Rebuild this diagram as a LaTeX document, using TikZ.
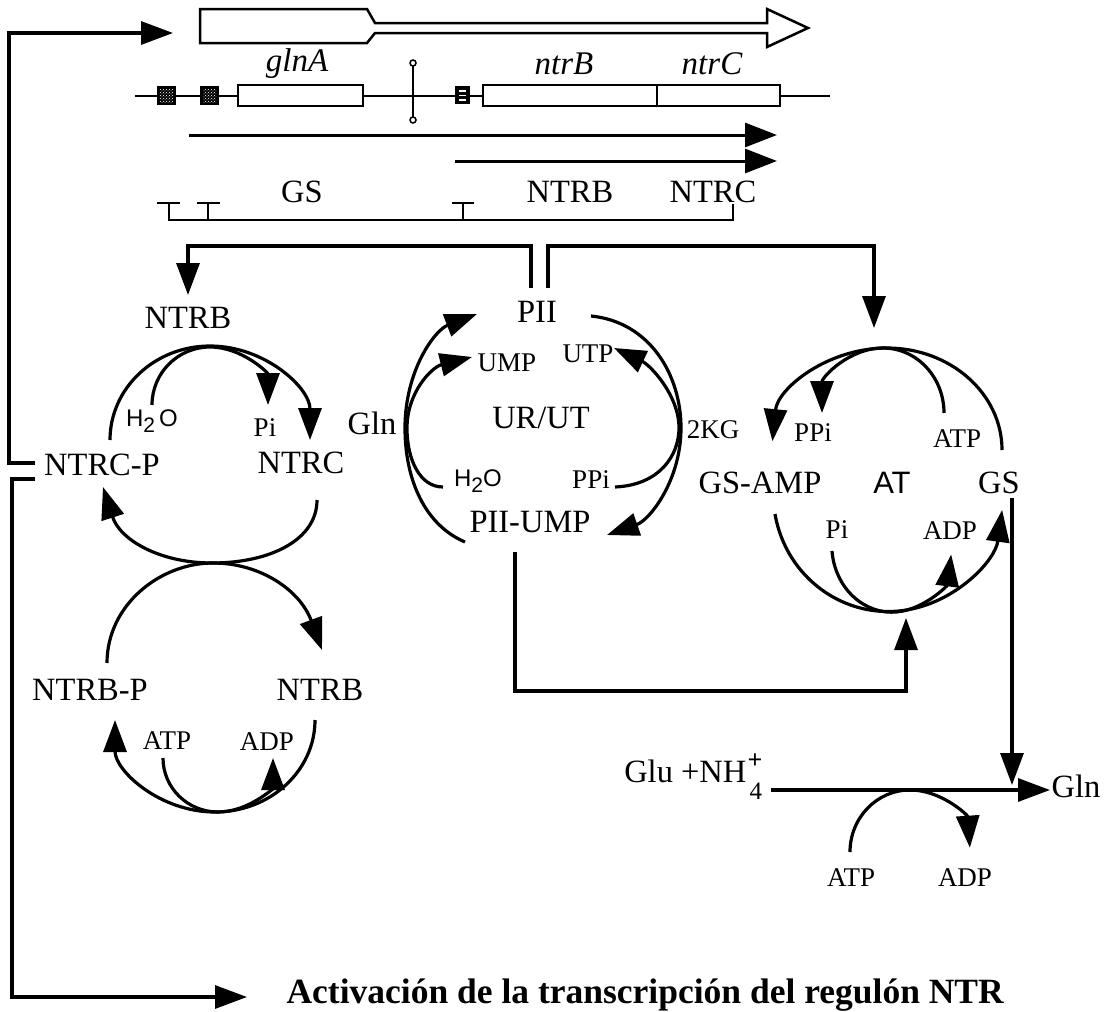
\documentclass[tikz,border=0pt]{standalone}
\usepackage{fontspec}
\setmainfont{Liberation Serif}
\newfontfamily\sansf{Liberation Sans}
\usetikzlibrary{arrows.meta,patterns}
\begin{document}
\begin{tikzpicture}[x=1pt,y=-1pt,line width=3.2pt,line join=miter,
  >={Triangle[length=32pt,width=23pt]},
  big/.style={font=\fontsize{32.5}{32.5}\selectfont,inner sep=0pt},
  small/.style={font=\fontsize{27}{27}\selectfont,inner sep=0pt},
  gene/.style={font=\fontsize{33}{33}\selectfont\itshape,inner sep=0pt},
  sans/.style={font=\fontsize{24}{24}\selectfont\sansf,inner sep=0pt},
  genebox/.style={draw,fill=white,line width=2.5pt},
  genearrow/.style={line width=3pt,-{Triangle[length=32pt,width=24pt]}},
  brk/.style={line width=2.5pt}]
\useasboundingbox (0,0) rectangle (1109,1012);

% ---------- operon ----------
\draw[line width=2.5pt] (200,9) -- (367,9) -- (375,23) -- (767,23) -- (767,9) -- (808,28)
  -- (767,47) -- (767,33) -- (375,33) -- (367,43) -- (200,43) -- cycle;
\coordinate (lineL) at (135,96);
\coordinate (lineR) at (830,96);
\draw[line width=2pt] (lineL) -- (lineR);
\foreach \x in {157,200}{
  \fill[black] (\x,86) rectangle +(19,19);
  \fill[pattern=crosshatch dots,pattern color=white] (\x+3,89) rectangle +(13,13);
}
\fill[black] (455,86) rectangle (470,104);
\foreach \y in {91,95.5,100}{\draw[white,line width=1.3pt] (459,\y) -- (466,\y);}
\draw[genebox] (238,85) rectangle (363,106);
\draw[genebox] (483,85) rectangle (657,106);
\draw[genebox] (657,85) rectangle (780,106);
\draw[line width=2pt] (413,63) -- (413,120);
\draw[line width=1.5pt,fill=white] (413,63) circle[radius=3pt];
\draw[line width=1.5pt,fill=white] (413,120) circle[radius=3pt];
\node[gene] (glnA) at (297,64) {glnA};
\node[gene] (ntrB) at (564,64) {ntrB};
\node[gene] (ntrC) at (712,64) {ntrC};

\coordinate (t1s) at (189,135); \coordinate (t1e) at (777,135);
\coordinate (t2s) at (455,161); \coordinate (t2e) at (777,161);
\draw[genearrow] (t1s) -- (t1e);
\draw[genearrow] (t2s) -- (t2e);

\node[big] (gsT) at (302,192) {GS};
\node[big] (ntrbT) at (570,192) {NTRB};
\node[big] (ntrcT) at (713,192) {NTRC};

% promoter bracket
\draw[brk] (157,203) -- (180,203);
\draw[brk] (197,203) -- (220,203);
\draw[brk] (452,203) -- (474,203);
\draw[brk] (208,203) -- (208,220);
\draw[brk] (463,203) -- (463,220);
\draw[brk] (169,203) -- (169,220) -- (733,220) -- (733,204);

% ---------- left cycles ----------
\node[big] (ntrbA) at (188,318) {NTRB};
\node[sans] (h2oA) at (152,421) {H\raisebox{-6pt}{\fontsize{21}{21}\selectfont 2}\,O};
\node[small] (piA) at (265,428) {Pi};
\node[big] (ntrcp) at (102,465) {NTRC-P};
\node[big] (ntrcA) at (301,463) {NTRC};
\node[big] (ntrbp) at (90,690) {NTRB-P};
\node[big] (ntrbB) at (320,690) {NTRB};
\node[small] (atpA) at (167,741) {ATP};
\node[small] (adpA) at (267,742) {ADP};

\draw[->] (110,440) arc[start angle=180,end angle=360,x radius=100,y radius=94];
\draw[->] (152,405) arc[start angle=180,end angle=360,x radius=58,y radius=58];
\draw[->] (317,500) .. controls (317,540) and (270,563) .. (212,563)
  .. controls (160,563) and (120,540) .. (103,487);
\draw[->] (107,663) .. controls (107,605) and (160,563) .. (213,563)
  .. controls (260,563) and (300,590) .. (322,650);
\draw[->] (315,720) arc[start angle=0,end angle=180,x radius=100,y radius=92];
\draw[->] (163,758) arc[start angle=180,end angle=0,x radius=55,y radius=54];

% ---------- PII cycle ----------
\node[big] (pii) at (537,312) {PII};
\node[small] (ump) at (507,363) {UMP};
\node[small] (utp) at (588,354) {UTP};
\node[big] (urut) at (541,418) {UR/UT};
\node[big] (glnL) at (372,423) {Gln};
\node[small] (kg) at (713,430) {2KG};
\node[sans] (h2oB) at (478,481) {H\raisebox{-6pt}{\fontsize{21}{21}\selectfont 2}O};
\node[small] (ppiB) at (591,480) {PPi};
\node[big] (piiump) at (530,522) {PII-UMP};

\draw[->] (465,542) .. controls (425,525) and (405,480) .. (405,428)
  .. controls (405,370) and (435,330) .. (477,314);
\draw[->] (443,487) .. controls (420,487) and (407,460) .. (407,428)
  .. controls (407,392) and (432,367) .. (472,357);
\draw[->] (591,316) .. controls (650,322) and (681,375) .. (681,428)
  .. controls (681,480) and (650,520) .. (607,535);
\draw[->] (615,487) .. controls (660,485) and (679,455) .. (679,428)
  .. controls (679,395) and (650,365) .. (614,348);

% ---------- AT cycle ----------
\node[small] (ppiC) at (813,433) {PPi};
\node[small] (atpC) at (957,439) {ATP};
\node[big] (gsamp) at (760,483) {GS-AMP};
\node[font=\fontsize{31}{31}\selectfont\sansf,inner sep=0pt] (at) at (892,483) {AT};
\node[big] (gsR) at (999,483) {GS};
\node[small] (piC) at (837,530) {Pi};
\node[small] (adpC) at (950,531) {ADP};

\draw[->] (1002,450) arc[start angle=0,end angle=-175,x radius=115,y radius=102];
\draw[->] (944,413) arc[start angle=0,end angle=-180,x radius=61,y radius=65];
\draw[->] (775,514) arc[start angle=170,end angle=8,x radius=115,y radius=118];
\draw[->] (832,551) arc[start angle=175,end angle=8,x radius=60,y radius=67];

% ---------- GS reaction ----------
\node[big,anchor=base east] (glu) at (748,782) {Glu +NH};
\node[font=\fontsize{25}{25}\selectfont,inner sep=0pt,anchor=base west] (four) at (748,799) {4};
\node[font=\fontsize{26}{26}\selectfont\bfseries,inner sep=0pt] (plus) at (755,761) {+};
\node[big] (glnR) at (1076,786) {Gln};
\node[small] (atpD) at (851,878) {ATP};
\node[small] (adpD) at (965,878) {ADP};
\coordinate (rxS) at (771,790);
\coordinate (rxE) at (1050,790);
\draw[->] (rxS) -- (rxE);
\draw[->] (850,852) arc[start angle=180,end angle=356,x radius=60,y radius=62];

% ---------- connectors ----------
\coordinate (fbA) at (35,463);
\coordinate (fbTop) at (173,33);
\draw[->] (fbA) -- (9,463) -- (9,33) -- (fbTop);
\coordinate (fbB) at (35,479);
\coordinate (fbBot) at (247,997);
\draw[->] (fbB) -- (12,479) -- (12,997) -- (fbBot);
\draw[->] (531,288) -- (531,246) -- (188,246) -- (188,295);
\draw[->] (548,288) -- (548,246) -- (874,246) -- (874,328);
\draw[->] (515,552) -- (515,691) -- (906,691) -- (906,618);
\draw[->] (1012,498) -- (1012,785);

\node[font=\fontsize{35.5}{35.5}\selectfont\bfseries,inner sep=0pt,anchor=west] (act) at (285,995)
  {Activación de la transcripción del regulón NTR};
\end{tikzpicture}
\end{document}
